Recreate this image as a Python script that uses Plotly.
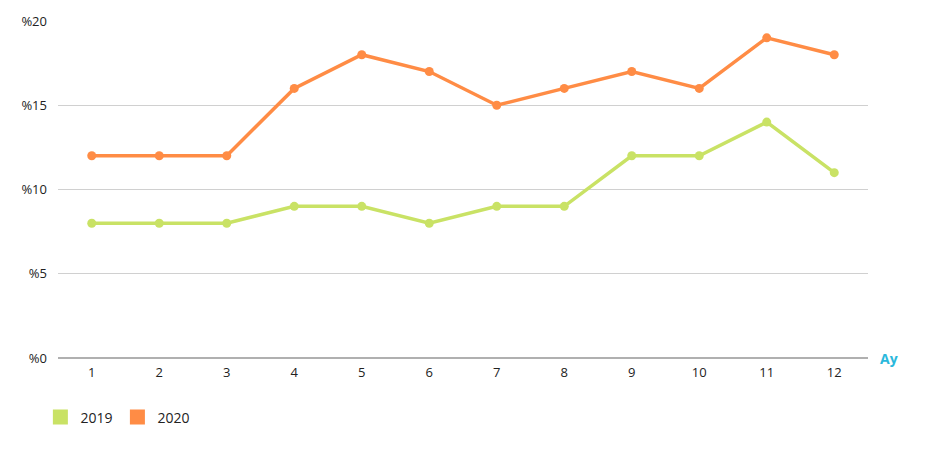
import plotly.graph_objects as go

months = ["1", "2", "3", "4", "5", "6", "7", "8", "9", "10", "11", "12"]
s2019 = [8, 8, 8, 9, 9, 8, 9, 9, 12, 12, 14, 11]
s2020 = [12, 12, 12, 16, 18, 17, 15, 16, 17, 16, 19, 18]
ytick_vals = [0, 5, 10, 15, 20]
ytick_text = ["%0", "%5", "%10", "%15", "%20"]

c2019 = "#c9e265"
c2020 = "#ff8c45"
font = "'Open Sans', Lato, sans-serif"

fig = go.Figure()
for name, vals, col in [("2019", s2019, c2019), ("2020", s2020, c2020)]:
    fig.add_trace(go.Scatter(x=months, y=vals, mode="lines+markers", name=name,
                             line=dict(color=col, width=3.5),
                             marker=dict(color=col, size=9),
                             showlegend=False, cliponaxis=False))
for name, col in [("2019", c2019), ("2020", c2020)]:
    fig.add_trace(go.Scatter(x=[None], y=[None], mode="markers", name=name,
                             marker=dict(color=col, size=15, symbol="square")))

fig.update_layout(
    width=925, height=450,
    margin=dict(l=50, r=65, t=13, b=100, autoexpand=False),
    paper_bgcolor="white", plot_bgcolor="white",
    font=dict(family=font, size=13, color="#222"),
    xaxis=dict(type="category", range=[-0.5, 11.5], showgrid=False, showline=False,
               ticks="", ticklabelstandoff=5, automargin=False,
               tickfont=dict(size=13, color="#222")),
    yaxis=dict(range=[0, 20], tickvals=ytick_vals, ticktext=ytick_text,
               showgrid=True, gridcolor="#d0d0d0", gridwidth=1,
               zeroline=True, zerolinecolor="#b0b0b0", zerolinewidth=2,
               showline=False, ticks="", ticklabelstandoff=10, automargin=False,
               tickfont=dict(size=13, color="#222")),
    legend=dict(orientation="h", x=0.035, y=0.09, xanchor="left", yanchor="middle",
                xref="container", yref="container",
                font=dict(size=14, color="#222"), itemwidth=30,
                bgcolor="rgba(0,0,0,0)"),
    showlegend=True,
)
fig.add_annotation(text="<b>Ay</b>", xref="paper", yref="paper", x=1.012, y=0,
                   xanchor="left", yanchor="middle", showarrow=False,
                   font=dict(size=14, color="#2ab8dc", family=font))

fig.write_html("out.html")
